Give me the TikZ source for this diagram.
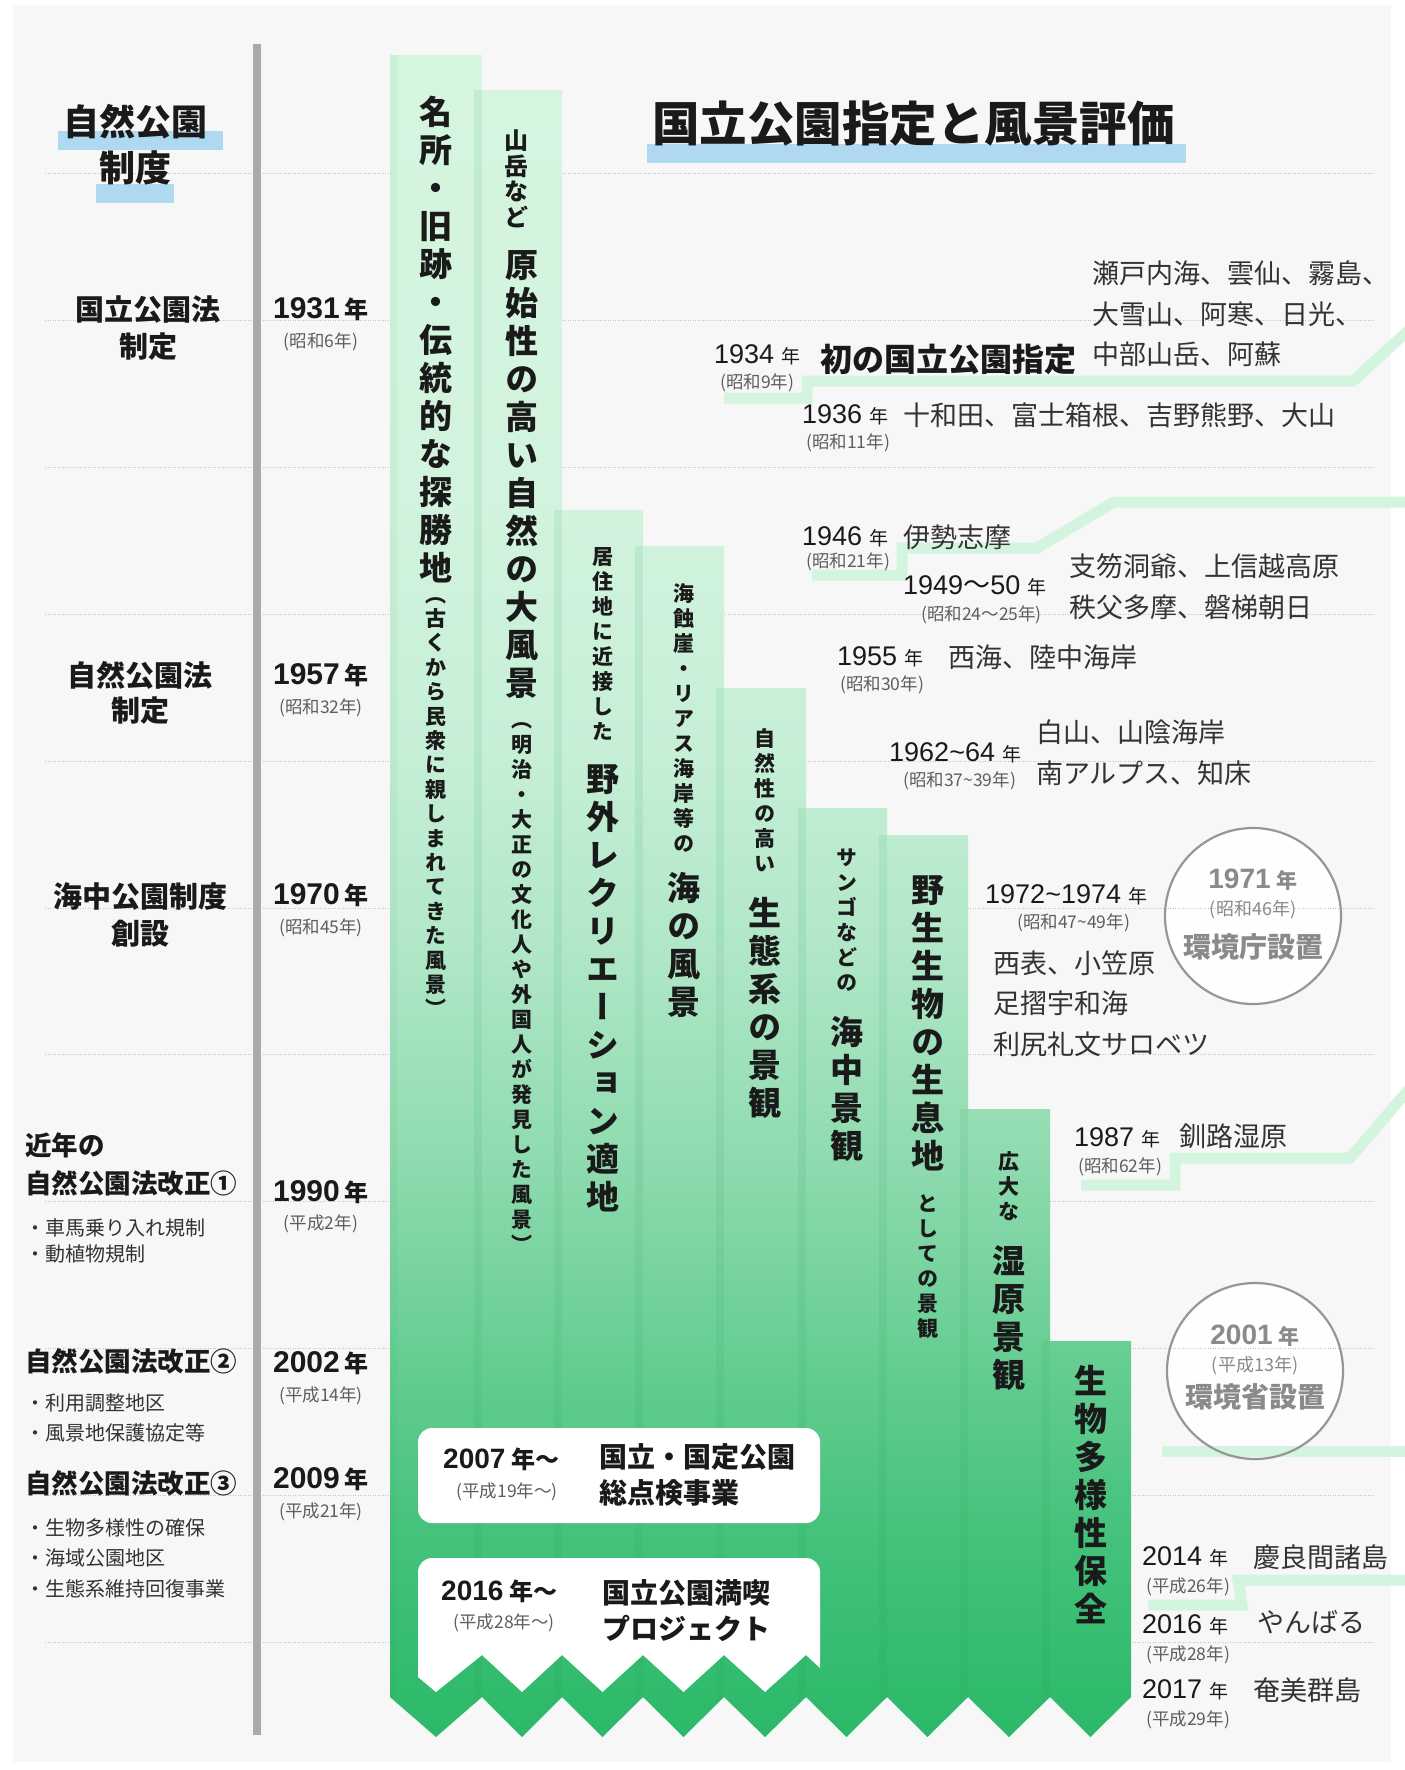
\documentclass[tikz,border=0pt]{standalone}
\usepackage{fontspec}
\setmainfont{Noto Sans CJK JP}
\newfontfamily\vjp{Noto Sans CJK JP}[RawFeature=+vert]
\newfontfamily\numf{Liberation Sans}
\ExplSyntaxOn
\NewDocumentCommand\vstack{m}{
  \seq_clear:N \l_tmpa_seq
  \tl_map_inline:nn {#1} { \seq_put_right:Nn \l_tmpa_seq {##1} }
  \seq_use:Nn \l_tmpa_seq {\\}
}
\ExplSyntaxOff
\definecolor{panel}{HTML}{F7F7F7}
\definecolor{hl}{HTML}{AED9F0}
\definecolor{mint}{HTML}{D3F4DE}
\definecolor{txt}{HTML}{1A1A1A}
\definecolor{txttwo}{HTML}{333333}
\definecolor{gtxt}{HTML}{5E5E5E}
\definecolor{ctxt}{HTML}{8A8A8A}
\definecolor{gline}{HTML}{AAAAAA}
\definecolor{dotc}{HTML}{C4C4C4}
\definecolor{gA}{HTML}{2BB968}
\definecolor{gB}{HTML}{42C17A}
\definecolor{gC}{HTML}{68CE94}
\definecolor{gD}{HTML}{90DBB0}
\definecolor{gE}{HTML}{B0E7C7}
\definecolor{gF}{HTML}{C6EFD6}
\definecolor{gG}{HTML}{D2F3DD}
\definecolor{gH}{HTML}{D5F5DF}
\definecolor{stripc}{HTML}{1E9E56}
\pgfdeclareverticalshading{colgrad}{100bp}{color(0bp)=(gA); color(25bp)=(gA); color(30.6bp)=(gB); color(36.5bp)=(gC); color(42.4bp)=(gD); color(48.4bp)=(gE); color(54.3bp)=(gF); color(61.8bp)=(gG); color(75bp)=(gH); color(100bp)=(gH)}
\newcommand\Ybig[1]{{\numf\bfseries\fontsize{30}{32}\selectfont #1}\hspace{5pt}{\bfseries\fontsize{24}{25}\selectfont 年}}
\newcommand\Yreg[1]{{\numf\fontsize{27}{30}\selectfont #1}\hspace{7pt}{\fontsize{19}{24}\selectfont 年}}
\newcommand\colpath{(390,55) -- (482,55) -- (482,90) -- (562,90) -- (562,510) -- (643,510) -- (643,546) -- (724,546) -- (724,688) -- (806,688) -- (806,808) -- (887,808) -- (887,835) -- (968,835) -- (968,1109) -- (1050,1109) -- (1050,1341) -- (1131,1341) -- (1131,1697) -- (1090.5,1737) -- (1050,1697) -- (1009,1737) -- (968,1697) -- (927.5,1737) -- (887,1697) -- (846.5,1737) -- (806,1697) -- (765,1737) -- (724,1697) -- (683.5,1737) -- (643,1697) -- (602.5,1737) -- (562,1697) -- (522,1737) -- (482,1697) -- (436,1737) -- (390,1697) -- cycle}
\begin{document}
\begin{tikzpicture}[x=1pt,y=-1pt,
  vbig/.style={font=\vjp\bfseries\fontsize{33}{38}\selectfont, align=center, inner sep=0pt, anchor=north, text=txt},
  vmid/.style={font=\vjp\bfseries\fontsize{24}{25.5}\selectfont, align=center, inner sep=0pt, anchor=north, text=txt},
  vsmall/.style={font=\vjp\bfseries\fontsize{21}{25}\selectfont, align=center, inner sep=0pt, anchor=north, text=txt},
  lhead/.style={font=\bfseries\fontsize{29}{34}\selectfont, text=txt, inner sep=0pt},
  lheadw/.style={font=\bfseries\fontsize{26.5}{30}\selectfont, text=txt, inner sep=0pt, anchor=west},
  bul/.style={font=\fontsize{20}{24}\selectfont, text=txttwo, inner sep=0pt, anchor=west},
  yl/.style={text=txt, inner sep=0pt},
  par/.style={font=\fontsize{17.5}{20}\selectfont, text=gtxt, inner sep=0pt},
  parw/.style={par, anchor=west},
  yr/.style={text=txt, inner sep=0pt, anchor=west},
  place/.style={font=\fontsize{27}{30}\selectfont, text=txttwo, inner sep=0pt, anchor=west},
  band/.style={draw=mint, line width=11pt, miter limit=10},
  dotline/.style={draw=dotc, line width=0.9pt, dash pattern=on 1pt off 1.5pt},
  circfill/.style={fill=white, fill opacity=0.9},
  circline/.style={draw=ctxt!90, line width=2.2pt},
  ctext/.style={text=ctxt, inner sep=0pt},
  boxhead/.style={font=\bfseries\fontsize{28}{32}\selectfont, text=txt, inner sep=0pt, anchor=west},
  strip/.style={fill=stripc, fill opacity=0.10}
]
\useasboundingbox (0,0) rectangle (1405,1770);
\fill[white] (0,0) rectangle (1405,1770);
\fill[panel] (13,5) rectangle (1391,1762);
% highlight bars
\fill[hl] (58,131) rectangle (223,150);
\fill[hl] (96,184) rectangle (174,203);
\fill[hl] (647,144) rectangle (1186,163);
% circle fills
\fill[circfill] (1253,916) circle[radius=88pt];
\fill[circfill] (1255,1371) circle[radius=88pt];
% dotted guide lines
\foreach \yy in {173,320,467,614,761,908,1054,1201,1348,1495,1642}
  \draw[dotline] (45,\yy) -- (1373,\yy);
% mint bands
\draw[band] (724,398) -- (807,398) -- (807,381) -- (1353,381) -- (1410,329);
\draw[band] (812,575) -- (902,575) -- (902,548) -- (1037,548) -- (1114,502) -- (1410,502);
\draw[band] (1081,1185) -- (1175,1185) -- (1175,1158) -- (1350,1158) -- (1410,1088);
\draw[band] (1162,1451) -- (1410,1451);
\draw[band] (1148,1605) -- (1242,1605) -- (1238,1580) -- (1410,1580);
% columns
\shade[shading=colgrad] \colpath;
\begin{scope}
  \clip \colpath;
  \fill[strip, fill opacity=0.06] (390,55) rectangle (397,1740);
  \fill[strip] (474,90) rectangle (482,1740);
  \fill[strip] (554,510) rectangle (562,1740);
  \fill[strip] (635,546) rectangle (643,1740);
  \fill[strip] (716,688) rectangle (724,1740);
  \fill[strip] (798,808) rectangle (806,1740);
  \fill[strip] (879,835) rectangle (887,1740);
  \fill[strip] (960,1109) rectangle (968,1740);
  \fill[strip] (1042,1341) rectangle (1050,1740);
\end{scope}
% white boxes
\fill[white, rounded corners=14pt] (418,1428) rectangle (820,1523);
\fill[white, rounded corners=14pt] (418,1558) rectangle (820,1640);
\fill[white] (418,1610) -- (820,1610) -- (820,1668) -- (806,1655) -- (765,1692) -- (724,1655) -- (683.5,1692) -- (643,1655) -- (602.5,1692) -- (562,1655) -- (522,1692) -- (482,1655) -- (436,1692) -- (418,1677) -- cycle;
% vertical gray line
\draw[draw=gline, line width=8pt] (257,44) -- (257,1735);
% circle outlines
\draw[circline] (1253,916) circle[radius=88pt];
\draw[circline] (1255,1371) circle[radius=88pt];

% ---------- titles
\node[font=\bfseries\fontsize{36}{40}\selectfont, text=txt, inner sep=0pt] (ttlA) at (135,122) {自然公園};
\node[font=\bfseries\fontsize{36}{40}\selectfont, text=txt, inner sep=0pt] (ttlB) at (135,168) {制度};
\node[font=\bfseries\fontsize{47.5}{52}\selectfont, text=txt, inner sep=0pt, anchor=west] (ttlC) at (652,124) {国立公園指定と風景評価};

% ---------- left column labels
\node[lhead] (l1a) at (148,310) {国立公園法};
\node[lhead] (l1b) at (148,347) {制定};
\node[lhead] (l2a) at (140,675) {自然公園法};
\node[lhead] (l2b) at (140,711) {制定};
\node[lhead] (l3a) at (140,897) {海中公園制度};
\node[lhead] (l3b) at (140,934) {創設};
\node[lheadw] (l4a) at (25,1145) {近年の};
\node[lheadw] (l4b) at (25,1183) {自然公園法改正①};
\node[bul] (b1) at (25,1228) {・車馬乗り入れ規制};
\node[bul] (b2) at (25,1254) {・動植物規制};
\node[lheadw] (l5) at (25,1361) {自然公園法改正②};
\node[bul] (b3) at (25,1403) {・利用調整地区};
\node[bul] (b4) at (25,1433) {・風景地保護協定等};
\node[lheadw] (l6) at (25,1483) {自然公園法改正③};
\node[bul] (b5) at (25,1528) {・生物多様性の確保};
\node[bul] (b6) at (25,1558) {・海域公園地区};
\node[bul] (b7) at (25,1589) {・生態系維持回復事業};

% ---------- left years
\node[yl] (y1) at (321,309) {\Ybig{1931}};
\node[par] (p1) at (321,342) {(昭和6年)};
\node[yl] (y2) at (321,675) {\Ybig{1957}};
\node[par] (p2) at (321,708) {(昭和32年)};
\node[yl] (y3) at (321,895) {\Ybig{1970}};
\node[par] (p3) at (321,928) {(昭和45年)};
\node[yl] (y4) at (321,1192) {\Ybig{1990}};
\node[par] (p4) at (321,1224) {(平成2年)};
\node[yl] (y5) at (321,1363) {\Ybig{2002}};
\node[par] (p5) at (321,1396) {(平成14年)};
\node[yl] (y6) at (321,1479) {\Ybig{2009}};
\node[par] (p6) at (321,1512) {(平成21年)};

% ---------- vertical column texts
\node[vbig] (v1a) at (436,96) {\vstack{名所・旧跡・伝統的な探勝地}};
\node[vsmall, font=\vjp\bfseries\fontsize{21}{24.4}\selectfont] (v1b) at (436,597) {\vstack{（古くから民衆に親しまれてきた風景）}};
\node[vmid] (v2a) at (516,130) {\vstack{山岳など}};
\node[vbig] (v2b) at (522,250) {\vstack{原始性の高い自然の大風景}};
\node[vsmall] (v2c) at (522,722) {\vstack{（明治・大正の文化人や外国人が発見した風景）}};
\node[vsmall] (v3a) at (602.5,547) {\vstack{居住地に近接した}};
\node[vbig] (v3b) at (602.5,764) {\vstack{野外レクリエーション適地}};
\node[vsmall] (v4a) at (683.5,583) {\vstack{海蝕崖・リアス海岸等の}};
\node[vbig] (v4b) at (683.5,872) {\vstack{海の風景}};
\node[vsmall] (v5a) at (765,728) {\vstack{自然性の高い}};
\node[vbig] (v5b) at (765,897) {\vstack{生態系の景観}};
\node[vsmall] (v6a) at (846.5,849) {\vstack{サンゴなどの}};
\node[vbig] (v6b) at (846.5,1016) {\vstack{海中景観}};
\node[vbig] (v7a) at (927.5,875) {\vstack{野生生物の生息地}};
\node[vsmall] (v7b) at (927.5,1194) {\vstack{としての景観}};
\node[vsmall] (v8a) at (1009,1151) {\vstack{広大な}};
\node[vbig] (v8b) at (1009,1245) {\vstack{湿原景観}};
\node[vbig] (v9) at (1090.5,1365) {\vstack{生物多様性保全}};

% ---------- right side: designations
\node[place] (n1a) at (1092,273) {瀬戸内海、雲仙、霧島、};
\node[place] (n1b) at (1092,314) {大雪山、阿寒、日光、};
\node[place] (n1c) at (1092,354) {中部山岳、阿蘇};
\node[yr] (r1) at (714,355) {\Yreg{1934}};
\node[parw] (q1) at (720,383) {(昭和9年)};
\node[font=\bfseries\fontsize{32}{36}\selectfont, text=txt, inner sep=0pt, anchor=west] (r1t) at (820,359) {初の国立公園指定};
\node[yr] (r2) at (802,415) {\Yreg{1936}};
\node[place] (n2) at (903,415) {十和田、富士箱根、吉野熊野、大山};
\node[parw] (q2) at (806,443) {(昭和11年)};

\node[yr] (r3) at (802,537) {\Yreg{1946}};
\node[place] (n3) at (903,537) {伊勢志摩};
\node[parw] (q3) at (806,562) {(昭和21年)};
\node[yr] (r4) at (903,586) {{\numf\fontsize{27}{30}\selectfont 1949}{\fontsize{27}{30}\selectfont 〜}{\numf\fontsize{27}{30}\selectfont 50}\hspace{7pt}{\fontsize{19}{24}\selectfont 年}};
\node[parw] (q4) at (921,615) {(昭和24〜25年)};
\node[place] (n4a) at (1069,566) {支笏洞爺、上信越高原};
\node[place] (n4b) at (1069,607) {秩父多摩、磐梯朝日};
\node[yr] (r5) at (837,657) {\Yreg{1955}};
\node[place] (n5) at (948,657) {西海、陸中海岸};
\node[parw] (q5) at (840,685) {(昭和30年)};
\node[yr] (r6) at (889,753) {\Yreg{1962\textasciitilde 64}};
\node[parw] (q6) at (903,781) {(昭和37\textasciitilde 39年)};
\node[place] (n6a) at (1036,732) {白山、山陰海岸};
\node[place] (n6b) at (1036,773) {南アルプス、知床};
\node[yr] (r7) at (985,895) {\Yreg{1972\textasciitilde 1974}};
\node[parw] (q7) at (1017,923) {(昭和47\textasciitilde 49年)};
\node[place] (n7a) at (993,963) {西表、小笠原};
\node[place] (n7b) at (993,1003) {足摺宇和海};
\node[place] (n7c) at (993,1044) {利尻礼文サロベツ};

% circle 1
\node[ctext] (c1a) at (1253,880) {{\numf\bfseries\fontsize{28}{30}\selectfont 1971}\hspace{6pt}{\bfseries\fontsize{21}{24}\selectfont 年}};
\node[ctext, font=\fontsize{18}{20}\selectfont] (c1b) at (1253,910) {(昭和46年)};
\node[ctext, font=\bfseries\fontsize{28}{32}\selectfont] (c1c) at (1253,947) {環境庁設置};

\node[yr] (r8) at (1074,1138) {\Yreg{1987}};
\node[place] (n8) at (1179,1136) {釧路湿原};
\node[parw] (q8) at (1078,1167) {(昭和62年)};

% circle 2
\node[ctext] (c2a) at (1255,1336) {{\numf\bfseries\fontsize{28}{30}\selectfont 2001}\hspace{6pt}{\bfseries\fontsize{21}{24}\selectfont 年}};
\node[ctext, font=\fontsize{18}{20}\selectfont] (c2b) at (1255,1366) {(平成13年)};
\node[ctext, font=\bfseries\fontsize{28}{32}\selectfont] (c2c) at (1255,1397) {環境省設置};

\node[yr] (r9) at (1142,1557) {\Yreg{2014}};
\node[place] (n9) at (1253,1557) {慶良間諸島};
\node[parw] (q9) at (1146,1587) {(平成26年)};
\node[yr] (r10) at (1142,1625) {\Yreg{2016}};
\node[place] (n10) at (1257,1622) {やんばる};
\node[parw] (q10) at (1146,1655) {(平成28年)};
\node[yr] (r11) at (1142,1690) {\Yreg{2017}};
\node[place] (n11) at (1253,1690) {奄美群島};
\node[parw] (q11) at (1146,1720) {(平成29年)};

% ---------- box texts
\node[yr] (bx1y) at (443,1459) {{\numf\bfseries\fontsize{28}{30}\selectfont 2007}\hspace{6pt}{\bfseries\fontsize{24}{26}\selectfont 年〜}};
\node[par] (bx1p) at (507,1492) {(平成19年〜)};
\node[boxhead] (bx1a) at (599,1457) {国立・国定公園};
\node[boxhead] (bx1b) at (599,1493) {総点検事業};
\node[yr] (bx2y) at (441,1591) {{\numf\bfseries\fontsize{28}{30}\selectfont 2016}\hspace{6pt}{\bfseries\fontsize{24}{26}\selectfont 年〜}};
\node[par] (bx2p) at (504,1623) {(平成28年〜)};
\node[boxhead] (bx2a) at (602,1593) {国立公園満喫};
\node[boxhead] (bx2b) at (602,1628) {プロジェクト};
\end{tikzpicture}
\end{document}
